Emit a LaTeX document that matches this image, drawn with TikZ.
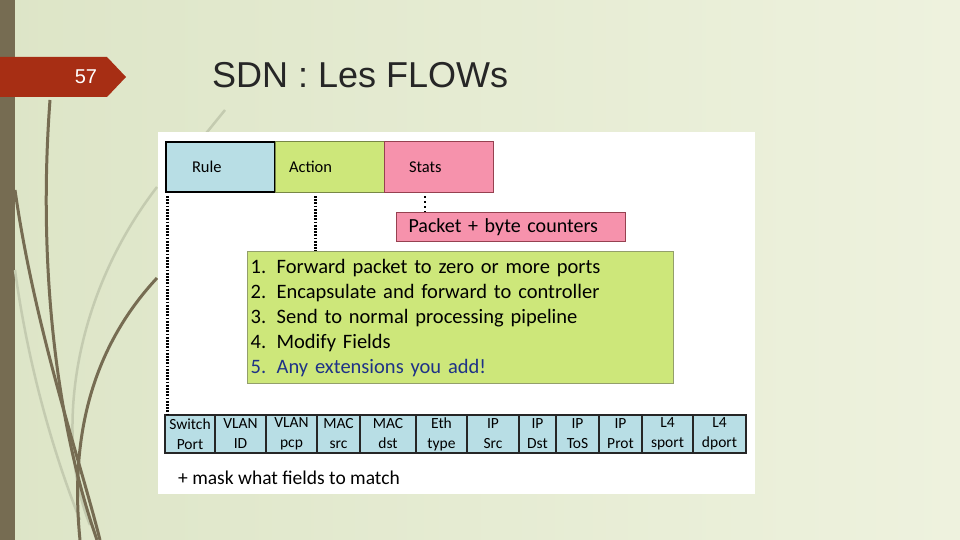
\documentclass[tikz,border=0pt]{standalone}
\usepackage{fontspec}
\setmainfont{Carlito}
\newfontfamily\titlefont{Liberation Sans}
\usetikzlibrary{calc, positioning}

\definecolor{bgleft}{RGB}{221,229,199}
\definecolor{bgright}{RGB}{238,242,222}
\definecolor{stripbrown}{RGB}{118,108,82}
\definecolor{lightstroke}{RGB}{196,203,176}
\definecolor{tagred}{RGB}{167,46,20}
\definecolor{rulecol}{RGB}{184,222,229}
\definecolor{actioncol}{RGB}{205,231,122}
\definecolor{statscol}{RGB}{246,146,172}
\definecolor{actionline}{RGB}{120,135,70}
\definecolor{statsline}{RGB}{150,65,80}
\definecolor{extblue}{RGB}{30,50,135}

\begin{document}
\begin{tikzpicture}[x=1pt, y=-1pt,
  topbox/.style={draw, minimum height=50pt, inner ysep=0pt, outer sep=0pt, align=left,
    font=\fontsize{16.5}{20}\selectfont},
  field/.style={draw=black!85, fill=rulecol, line width=1.2pt, minimum height=38pt,
    inner sep=0pt, outer sep=0pt, align=center, font=\fontsize{15.5}{20}\selectfont},
  densedot/.style={line width=3pt, dash pattern=on 1.8pt off 1.4pt},
  sparsedot/.style={line width=2.6pt, dash pattern=on 2pt off 3pt},
  stroke/.style={stripbrown, line width=3pt},
  faint/.style={lightstroke, line width=2.5pt}]

\useasboundingbox (0,0) rectangle (960,540);

% Slide background
\shade[left color=bgleft, right color=bgright] (0,0) rectangle (960,540);
\fill[stripbrown] (0,0) rectangle (15,540);

% Decorative strokes
\draw[faint] (157,187) .. controls (70,300) and (55,440) .. (90,525);
\draw[faint] (15,270) .. controls (30,380) and (60,470) .. (80,520);
\draw[faint] (225,110) -- (160,190);
\draw[stroke] (50,100) .. controls (38,260) and (55,420) .. (97,540);
\draw[stroke] (15,190) .. controls (35,330) and (80,460) .. (100,540);
\draw[stroke] (157,278) .. controls (90,350) and (70,440) .. (80,540);

% Slide number tag
\fill[tagred] (0,57) -- (107,57) -- (126,77) -- (107,97) -- (0,97) -- cycle;
\node[text=white, font=\titlefont\fontsize{20}{24}\selectfont] (slidenum) at (86,77) {57};

% Title
\node[anchor=base west, inner sep=0pt, text=black!85,
  font=\titlefont\fontsize{36}{40}\selectfont] (title) at (212,88) {SDN : Les FLOWs};

% White panel
\fill[white] (158,132) rectangle (755,494);

% Flow entry: rule / action / stats
\node[topbox, fill=rulecol, line width=1.6pt, inner xsep=26pt, text width=57pt,
  anchor=north west] (rule) at (166,142) {Rule};
\node[topbox, fill=actioncol, draw=actionline, line width=1pt, inner xsep=14pt,
  text width=81pt, right=0pt of rule] (action) {Action};
\node[topbox, fill=statscol, draw=statsline, line width=1pt, inner xsep=25pt,
  text width=59pt, right=0pt of action] (stats) {Stats};

% Counters
\node[draw=statsline, fill=statscol, line width=1pt, anchor=north west, align=left,
  inner xsep=12pt, inner ysep=0pt, text width=205pt, minimum height=29pt,
  font=\fontsize{20}{23}\selectfont] (counters) at (396,212) {Packet + byte counters};

% Actions list
\node[draw=actionline!80, fill=actioncol, line width=1.3pt, anchor=north west, align=left,
  inner xsep=3pt, inner ysep=0pt, text width=420pt, minimum height=132pt,
  font=\fontsize{20.5}{25}\selectfont] (list) at (247,251)
  {\makebox[26pt][l]{1.}Forward packet to zero or more ports\\
   \makebox[26pt][l]{2.}Encapsulate and forward to controller\\
   \makebox[26pt][l]{3.}Send to normal processing pipeline\\
   \makebox[26pt][l]{4.}Modify Fields\\
   \textcolor{extblue}{\makebox[26pt][l]{5.}Any extensions you add!}};

% Header fields
\foreach \i/\l/\r/\a/\b in {1/165/215/Switch/Port, 2/215/266/VLAN/ID, 3/266/317/VLAN/pcp,
    4/317/360/MAC/src, 5/360/416/MAC/dst, 6/416/467/Eth/type, 7/467/519/IP/Src,
    8/519/556/IP/Dst, 9/556/599/IP/ToS, 10/599/642/IP/Prot, 11/642/693/L4/sport,
    12/693/746/L4/dport}
  \node[field, minimum width={(\r-\l)*1pt}] (f\i) at ({(\l+\r)/2},434) {\a\\\b};

\node[anchor=west, inner sep=0pt, font=\fontsize{19.5}{23}\selectfont] (mask)
  at (178,478) {+ mask what fields to match};

% Dotted links
\coordinate (rule-drop) at ($(rule.south west)+(1,4)$);
\coordinate (act-drop) at ($(action.south west)+(40,4)$);
\coordinate (stats-drop) at ($(stats.south west)+(41,4)$);
\draw[densedot] (rule-drop) -- (rule-drop |- f1.north);
\draw[densedot] (act-drop) -- (act-drop |- list.north);
\draw[sparsedot] (stats-drop) -- (stats-drop |- counters.north);

\end{tikzpicture}
\end{document}
